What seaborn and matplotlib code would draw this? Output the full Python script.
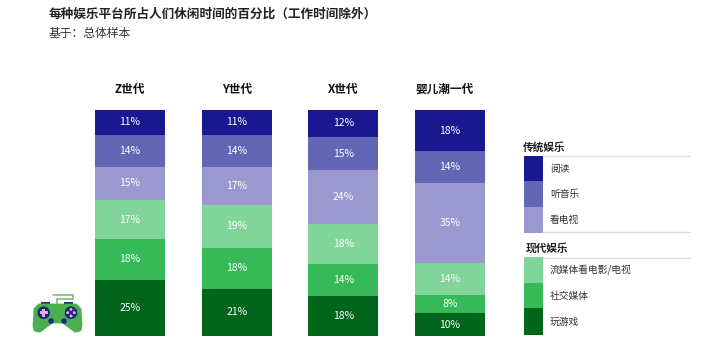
#!/usr/bin/env python3
# -*- coding: utf-8 -*-
import numpy as np
import pandas as pd
import matplotlib
matplotlib.use('Agg')
import matplotlib.pyplot as plt
from matplotlib.patches import Rectangle, Circle, Polygon
from matplotlib.transforms import ScaledTranslation
import seaborn as sns

sns.set_style('white')
plt.rcParams['font.family'] = ['Noto Sans CJK SC', 'DejaVu Sans']

generations = ['Z世代', 'Y世代', 'X世代', '婴儿潮一代']

# top to bottom, as printed in the bars
reading = [11, 11, 12, 18]
music = [14, 14, 15, 14]
tv = [15, 17, 24, 35]
streaming = [17, 19, 18, 14]
social = [18, 18, 14, 8]
games = [25, 21, 18, 10]

title = '每种娱乐平台所占人们休闲时间的百分比（工作时间除外）'
subtitle = '基于：总体样本'

group_old = '传统娱乐'
group_new = '现代娱乐'
names_old = ['阅读', '听音乐', '看电视']
names_new = ['流媒体看电影/电视', '社交媒体', '玩游戏']

colors_old = ['#1A1890', '#6366B5', '#9A98CE']
colors_new = ['#82D59A', '#36BA58', '#01661C']

W, H = 721, 358
fig = plt.figure(figsize=(W / 100, H / 100), dpi=100)
ax = fig.add_axes([76.7 / W, (H - 336) / H, 426.7 / W, 226 / H])

# bottom to top for stacking
series = [games, social, streaming, tv, music, reading]
names = (names_old + names_new)[::-1]
colors = (colors_old + colors_new)[::-1]

df = pd.DataFrame(dict(zip(names, series)), index=generations)
# the printed numbers do not always add to 100, bars are a full stack
shares = df.div(df.sum(axis=1), axis=0) * 100

bottom = np.zeros(len(generations))
for name, col in zip(names, colors):
    sns.barplot(x=generations, y=shares[name].values, color=col, width=0.656,
                bottom=bottom, saturation=1, linewidth=0, ax=ax)
    labels = [f'{v}%' for v in df[name].values]
    ax.bar_label(ax.containers[-1], labels=labels, label_type='center',
                 color='white', fontsize=7.5)
    bottom = bottom + shares[name].values

ax.set_xlim(-0.5, 3.5)
ax.set_ylim(0, 100)
ax.set_yticks([])
ax.xaxis.tick_top()
ax.tick_params(axis='x', length=0, pad=10, labelsize=8.4, labelcolor='#111111')
for lab in ax.get_xticklabels():
    lab.set_fontweight('bold')
# last header sits a bit left of its bar
last = ax.get_xticklabels()[-1]
last.set_transform(last.get_transform() + ScaledTranslation(-5 / 100, 0, fig.dpi_scale_trans))
sns.despine(ax=ax, left=True, bottom=True, top=True, right=True)

# overlay in pixel coordinates for title, legend and icon
ov = fig.add_axes([0, 0, 1, 1], zorder=5)
ov.set_xlim(0, W)
ov.set_ylim(H, 0)
ov.axis('off')

ov.text(49, 14.5, title, fontsize=9.1, fontweight='bold', color='#222222', va='center')
ov.text(49, 33.5, subtitle, fontsize=8.5, color='#333333', va='center')

# legend
ov.text(523, 147, group_old, fontsize=7.7, fontweight='bold', color='#222222', va='center')
ov.text(526, 248, group_new, fontsize=7.7, fontweight='bold', color='#222222', va='center')
for y in [156, 232, 257.5]:
    ov.plot([543, 690], [y, y], color='#DDDDDD', lw=1)
rows = [(156, 25, colors_old[0], names_old[0]),
        (181, 26, colors_old[1], names_old[1]),
        (207, 26, colors_old[2], names_old[2]),
        (257, 26, colors_new[0], names_new[0]),
        (283, 25, colors_new[1], names_new[1]),
        (308, 27, colors_new[2], names_new[2])]
for y, h, col, name in rows:
    ov.add_patch(Rectangle((524, y), 19, h, fc=col, ec='none'))
    ov.text(550, y + h / 2, name, fontsize=7, color='#333333', va='center')

# game controller icon
green = '#4CAF4F'
navy = '#1A2A7A'
pink = '#E9A6D8'
ov.add_patch(Rectangle((40.7, 301.7), 9.3, 2.5, fc=navy, ec='none'))
ov.add_patch(Rectangle((63.5, 301.7), 9.5, 2.5, fc=navy, ec='none'))
ov.plot([57, 57, 73, 73, 53], [304, 299.3, 299.3, 295, 295], color='#6DBB6F', lw=1.1,
        solid_joinstyle='round')
body = [(39, 305), (76, 305), (80, 309), (81, 326), (80, 330), (77, 331), (75, 331), (63, 322),
        (52, 322), (40, 331), (38, 331), (35, 330), (34, 326), (35, 309)]
ov.add_patch(Polygon(body, fc=green, ec=green, lw=2, joinstyle='round'))
ov.add_patch(Circle((43.7, 312.7), 6.3, fc=navy, ec='none'))
ov.add_patch(Circle((71, 312.7), 6.3, fc=navy, ec='none'))
ov.add_patch(Rectangle((39.5, 311.2), 8.5, 3, fc=pink, ec='none'))
ov.add_patch(Rectangle((42.2, 308.5), 3, 8.5, fc=pink, ec='none'))
for dx, dy in [(-3.3, 0), (3.3, 0), (0, -3.3), (0, 3.3)]:
    ov.add_patch(Circle((71 + dx, 312.7 + dy), 1.5, fc=pink, ec='none'))
ov.add_patch(Circle((51, 321), 2.8, fc=navy, ec='none'))
ov.add_patch(Circle((64, 321), 2.8, fc=navy, ec='none'))

fig.savefig('out.png', dpi=100)
